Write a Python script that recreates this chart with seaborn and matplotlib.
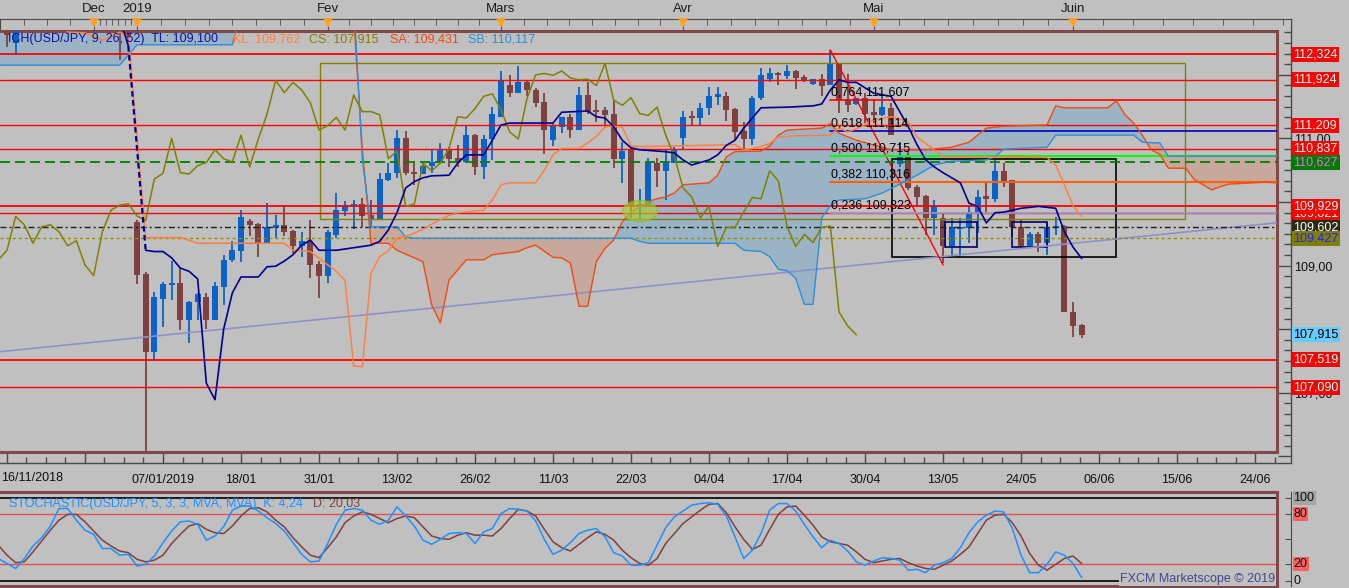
import numpy as np
import pandas as pd
import matplotlib
matplotlib.use("Agg")
import matplotlib.pyplot as plt
import matplotlib.transforms as mtransforms
from matplotlib.patches import Rectangle, Ellipse
from matplotlib.ticker import FixedLocator, MultipleLocator, AutoMinorLocator, FuncFormatter, NullFormatter
import seaborn as sns

sns.set_style("white")
plt.rcParams['font.family'] = ['Liberation Sans', 'DejaVu Sans']
plt.rcParams['lines.scale_dashes'] = False

# ---------------- data (USD/JPY daily, bar 0 = 07/01/2019) ----------------
bar_idx = [-18, -17, -5, -4] + list(range(-3, 107))
opens = [112.85, 112.50, 112.90, 112.67,
         109.68, 108.87, 107.64, 108.47, 108.70, 108.73, 108.14, 108.43, 108.51, 108.14,
         108.67, 109.08, 109.23, 109.70, 109.65, 109.35, 109.59, 109.64, 109.54, 109.31,
         109.39, 109.02, 108.84, 109.48, 109.86, 109.92, 109.96, 109.79, 109.71, 110.35,
         110.45, 111.00, 110.47, 110.44, 110.57, 110.61, 110.82, 110.69, 110.63, 111.05,
         110.55, 110.99, 111.33, 111.84, 111.72, 111.88, 111.76, 111.57, 110.97, 111.18,
         111.33, 111.13, 111.68, 111.45, 111.45, 111.39, 110.68, 110.82, 109.92, 109.95,
         110.61, 110.49, 110.61, 111.00, 111.34, 111.32, 111.47, 111.65, 111.67, 111.46,
         111.12, 110.99, 111.63, 111.94, 112.02, 111.98, 112.06, 111.96, 111.85, 111.93,
         111.84, 112.17, 111.60, 111.54, 111.63, 111.42, 111.36, 111.47, 110.59, 110.72,
         110.24, 110.09, 109.75, 109.74, 109.30, 109.57, 109.59, 109.82, 110.10, 110.05,
         110.49, 110.35, 109.61, 109.31, 109.49, 109.35, 109.59, 109.62, 108.27, 108.07]
highs = [112.95, 112.90, 113.00, 112.90,
         109.72, 108.90, 108.58, 108.74, 109.07, 108.96, 108.44, 108.57, 108.57, 108.74,
         109.17, 109.38, 109.87, 109.73, 109.67, 109.99, 109.79, 109.93, 109.56, 109.52,
         109.72, 109.07, 109.56, 110.14, 110.01, 110.03, 110.06, 110.03, 110.45, 110.61,
         111.13, 111.12, 110.61, 110.63, 110.82, 110.92, 110.87, 110.90, 111.19, 111.07,
         111.05, 111.50, 112.06, 112.00, 112.13, 111.92, 111.79, 111.71, 111.23, 111.34,
         111.39, 111.81, 111.88, 111.60, 111.50, 111.60, 110.95, 110.87, 110.21, 110.69,
         110.69, 110.82, 110.87, 111.43, 111.43, 111.55, 111.81, 111.81, 111.73, 111.48,
         111.26, 111.66, 112.10, 112.10, 112.04, 112.15, 112.07, 112.00, 111.94, 112.01,
         112.39, 112.18, 112.01, 111.64, 111.71, 111.60, 111.66, 111.55, 110.95, 110.84,
         110.27, 110.11, 110.03, 109.82, 109.74, 109.74, 109.93, 110.19, 110.32, 110.66,
         110.61, 110.35, 109.73, 109.53, 109.53, 109.67, 109.77, 109.64, 108.43, 108.08]
lows = [112.44, 112.31, 112.23, 112.50,
        108.71, 104.87, 107.52, 108.03, 108.46, 107.99, 107.78, 108.14, 108.00, 108.14,
        108.38, 109.06, 109.06, 109.47, 109.14, 109.34, 109.43, 109.47, 109.19, 109.14,
        108.81, 108.49, 108.73, 109.43, 109.78, 109.57, 109.60, 109.61, 109.71, 110.33,
        110.37, 110.42, 110.27, 110.44, 110.46, 110.60, 110.55, 110.55, 110.63, 110.42,
        110.36, 110.66, 111.33, 111.65, 111.72, 111.67, 111.50, 110.75, 110.88, 111.09,
        111.00, 111.13, 111.39, 111.26, 111.16, 110.54, 110.29, 109.74, 109.72, 109.95,
        110.24, 110.03, 110.61, 110.82, 111.21, 111.21, 111.37, 111.52, 111.28, 110.97,
        110.82, 110.90, 111.60, 111.89, 111.84, 111.94, 111.77, 111.89, 111.84, 111.67,
        111.84, 111.40, 111.42, 111.52, 111.24, 111.24, 111.35, 111.05, 110.55, 110.19,
        109.93, 109.48, 109.48, 109.04, 109.14, 109.14, 109.35, 109.51, 109.82, 110.00,
        110.24, 109.45, 109.27, 109.27, 109.22, 109.17, 109.48, 108.27, 107.88, 107.86]
closes = [112.62, 112.80, 112.80, 112.59,
          108.85, 107.64, 108.51, 108.71, 108.73, 108.14, 108.43, 108.55, 108.14, 108.68,
          109.09, 109.24, 109.77, 109.64, 109.35, 109.61, 109.64, 109.53, 109.31, 109.39,
          109.01, 108.84, 109.53, 109.87, 109.95, 109.97, 109.78, 109.71, 110.36, 110.45,
          111.00, 110.46, 110.44, 110.57, 110.62, 110.82, 110.68, 110.63, 111.05, 110.55,
          110.99, 111.38, 111.91, 111.72, 111.88, 111.76, 111.56, 111.13, 111.20, 111.33,
          111.13, 111.68, 111.42, 111.42, 111.37, 110.68, 110.80, 109.93, 109.97, 110.61,
          110.49, 110.61, 110.84, 111.34, 111.32, 111.47, 111.66, 111.70, 111.45, 111.10,
          110.99, 111.63, 112.00, 112.02, 111.99, 112.06, 111.95, 111.92, 111.93, 111.83,
          112.18, 111.60, 111.52, 111.64, 111.39, 111.36, 111.49, 111.05, 110.72, 110.22,
          110.08, 109.75, 109.93, 109.30, 109.60, 109.60, 109.84, 110.07, 110.05, 110.49,
          110.33, 109.61, 109.30, 109.49, 109.36, 109.60, 109.62, 108.27, 108.05, 107.91]

# Ichimoku lines (bar index, price)
tenkan_idx = [-5, -4, -2, -1, 0, 1, 2, 3, 4, 5, 6, 7, 8, 9, 11, 12, 13, 14, 15, 16, 17, 18, 20,
              24, 25, 26, 27, 28, 29, 30, 31, 33, 34, 35, 37, 38, 39, 40, 45, 46, 49, 50, 51, 52,
              53, 54, 55, 58, 59, 60, 61, 63, 64, 65, 66, 67, 69, 72, 75, 76, 77, 78, 79, 80, 82,
              84, 85, 86, 87, 88, 89, 90, 92, 93, 94, 95, 96, 97, 99, 101, 103, 104, 105, 106]
tenkan_px = [112.90, 112.45, 109.24, 109.22, 109.22, 109.12, 108.96, 108.91, 108.79, 107.15, 106.89,
             108.00, 108.57, 108.82, 108.82, 108.98, 108.99, 109.07, 109.17, 109.32, 109.40, 109.24,
             109.24, 109.32, 109.38, 109.56, 109.83, 110.22, 110.32, 110.38, 110.41, 110.42, 110.61,
             110.74, 110.74, 110.97, 111.21, 111.24, 111.24, 111.41, 111.43, 111.34, 111.32, 111.18,
             110.97, 110.85, 110.82, 110.79, 110.77, 110.66, 110.58, 110.66, 110.74, 110.89, 110.97,
             111.16, 111.48, 111.49, 111.51, 111.54, 111.76, 111.92, 111.88, 111.88, 111.71, 111.66,
             111.42, 111.18, 110.90, 110.66, 110.55, 110.46, 110.30, 109.98, 109.93, 109.67, 109.83,
             109.84, 109.90, 109.93, 109.90, 109.53, 109.29, 109.11]
kijun_idx = [-19, -12, -11, -9, -7, -6, -5, -4, -2, 2, 4, 14, 15, 17, 19, 20, 21, 22, 23, 24, 25,
             26, 27, 28, 29, 30, 31, 32, 33, 34, 37, 38, 39, 40, 43, 44, 45, 46, 48, 49, 50, 51, 52,
             53, 54, 55, 66, 67, 68, 69, 70, 71, 73, 77, 78, 79, 80, 82, 84, 86, 87, 89, 90, 102,
             103, 104, 105, 106]
kijun_px = [113.00, 113.00, 112.67, 112.66, 112.54, 112.61, 112.67, 112.61, 109.44, 109.44, 109.35,
            109.35, 109.24, 109.22, 109.01, 108.91, 108.77, 107.42, 107.41, 108.88, 109.14, 109.23,
            109.43, 109.46, 109.51, 109.57, 109.65, 109.72, 109.79, 109.83, 109.87, 110.03, 110.27,
            110.30, 110.30, 110.50, 110.74, 110.84, 110.84, 110.93, 111.03, 111.18, 111.19, 111.18,
            110.88, 110.87, 110.90, 110.82, 110.84, 110.87, 110.92, 111.02, 111.04, 111.05, 111.17,
            111.10, 111.15, 111.29, 111.34, 111.26, 111.02, 110.82, 110.71, 110.70, 110.58, 110.27,
            109.94, 109.77]
senkou_a_idx = [-19, 21, 22, 23, 24, 26, 27, 30, 31, 32, 33, 34, 35, 37, 38, 41, 42, 43, 45, 46,
                47, 48, 49, 50, 51, 52, 53, 54, 55, 56, 57, 58, 59, 60, 63, 64, 65, 66, 69, 70, 71,
                72, 76, 77, 78, 80, 84, 88, 91, 93, 95, 97, 102, 103, 104, 109, 110, 111, 112, 113,
                114, 115, 116, 118, 119, 121, 122, 123, 127, 129]
senkou_a_px = [113.00, 113.00, 112.90, 110.82, 109.35, 109.35, 109.24, 109.06, 108.38, 108.10,
               108.77, 108.93, 109.09, 109.09, 109.17, 109.22, 109.28, 109.32, 109.13, 109.12,
               109.04, 108.36, 108.36, 109.06, 109.27, 109.40, 109.69, 109.84, 109.92, 110.01,
               110.05, 110.08, 110.14, 110.27, 110.30, 110.42, 110.71, 110.79, 110.80, 110.88,
               111.05, 111.13, 111.16, 111.23, 111.08, 110.97, 110.82, 110.82, 110.86, 110.94,
               111.16, 111.19, 111.21, 111.51, 111.48, 111.48, 111.59, 111.37, 111.24, 111.05,
               110.82, 110.75, 110.53, 110.53, 110.35, 110.19, 110.24, 110.28, 110.31, 110.30]
senkou_b_idx = [-19, -5, -4, -3, 8, 9, 22, 23, 24, 27, 28, 29, 54, 55, 56, 66, 67, 69, 70, 71, 72,
                73, 74, 75, 76, 77, 78, 81, 83, 85, 87, 89, 91, 95, 96, 97, 102, 103, 112, 113, 114,
                115, 116, 129]
senkou_b_px = [112.15, 112.15, 112.31, 112.47, 112.47, 113.00, 113.20, 110.67, 109.61, 109.61,
               109.45, 109.43, 109.43, 109.38, 109.35, 109.35, 109.24, 109.22, 109.14, 108.94,
               108.92, 108.80, 108.39, 108.39, 109.75, 109.94, 110.03, 110.05, 110.14, 110.28,
               110.42, 110.58, 110.64, 110.66, 110.71, 110.83, 110.86, 111.05, 111.05, 110.94,
               110.93, 110.93, 110.72, 110.72]

# horizontal levels shown with labels on the price scale
level_px = [112.324, 111.924, 111.209, 110.837, 110.627, 109.821, 109.929, 109.602, 109.427,
            107.915, 107.519, 107.090]
level_bg = ['#ff0000', '#ff0000', '#ff0000', '#ff0000', '#007a00', '#ff0000', '#ff0000',
            '#2b2b14', '#808000', '#66ccff', '#ff0000', '#ff0000']
level_fg = ['#b0ffff', '#b0ffff', '#b0ffff', '#b0ffff', '#e070e0', '#b0ffff', '#b0ffff',
            '#ffffff', '#2020ff', '#000000', '#b0ffff', '#b0ffff']
scale_labels = [107, 109, 111]

# Fibonacci retracement drawn from bar 77
fib_ratio = ['0,764', '0,618', '0,500', '0,382', '0,236']
fib_px = [111.607, 111.114, 110.715, 110.316, 109.823]
fib_col = ['#ff0000', '#0000c0', '#00ff00', '#ff6000', '#9a9ad0']

# stochastic (5,3,3), one value per bar from -19 to 106
stoch_idx = list(range(-19, 107))
stoch_k = [27, 21, 15, 27, 42, 52, 66, 87, 87, 73, 61, 56, 39, 39, 31, 32, 18, 20, 30, 46,
           60, 71, 72, 68, 49, 54, 65, 85, 90, 90, 84, 76, 69, 60, 46, 32, 23, 24, 45, 68,
           85, 87, 85, 73, 68, 73, 89, 78, 66, 49, 44, 50, 57, 58, 57, 45, 59, 63, 81, 87,
           86, 84, 72, 50, 32, 37, 46, 57, 61, 63, 53, 34, 30, 19, 19, 22, 43, 64, 77, 84,
           91, 93, 94, 92, 78, 53, 27, 37, 57, 85, 93, 93, 84, 68, 53, 40, 49, 45, 36, 23,
           19, 24, 28, 27, 25, 13, 14, 10, 19, 22, 27, 40, 58, 71, 79, 84, 83, 63, 31, 10,
           10, 20, 35, 31, 21, 4]
stoch_d = [43, 31, 22, 23, 35, 48, 61, 73, 80, 80, 71, 60, 49, 42, 36, 34, 26, 23, 25, 31,
           45, 56, 66, 69, 62, 58, 57, 66, 78, 87, 88, 83, 73, 65, 52, 41, 31, 28, 40, 53,
           70, 78, 83, 80, 75, 70, 75, 78, 76, 65, 54, 51, 50, 55, 58, 55, 55, 54, 63, 75,
           86, 84, 78, 62, 47, 40, 36, 44, 52, 59, 56, 49, 37, 28, 21, 19, 27, 45, 57, 69,
           77, 85, 92, 93, 82, 65, 50, 38, 43, 62, 80, 89, 90, 79, 67, 53, 47, 45, 43, 35,
           26, 22, 24, 26, 27, 22, 18, 15, 14, 19, 24, 32, 41, 57, 73, 79, 80, 70, 54, 33,
           19, 13, 20, 27, 30, 21]

# date axes
date_ticks = [0, 9, 18, 27, 36, 45, 54, 63, 72, 81, 90, 99, 108, 117, 126]
date_labels = ['07/01/2019', '18/01', '31/01', '13/02', '26/02', '11/03', '22/03', '04/04',
               '17/04', '30/04', '13/05', '24/05', '06/06', '15/06', '24/06']
month_idx = [-8, -3, 19, 39, 60, 82, 105]
month_labels = ['Dec', '2019', 'Fev', 'Mars', 'Avr', 'Mai', 'Juin']

# ---------------- layout ----------------
BG = '#c0c0c0'
FRAME = '#804848'
AXC = '#4a4a4a'
BULL = '#0a64c8'
BEAR = '#804040'
W, H = 1349.0, 588.0
PX_BAR, X_ZERO, PX_YEN, TOP_PRICE = 8.667, 163.0, 63.6, 113.175


def rect(x0, y0, x1, y1):
    return [x0 / W, 1 - y1 / H, (x1 - x0) / W, (y1 - y0) / H]


def bar_at(px):
    return (px - X_ZERO) / PX_BAR


def price_at(py):
    return TOP_PRICE - py / PX_YEN


def ftext(px, py, s, **kw):
    fig.text(px / W, 1 - py / H, s, **kw)


def scale_fmt(v, pos):
    return f"{v:.2f}".replace('.', ',') if round(v) in scale_labels else ''


fig = plt.figure(figsize=(W / 100, H / 100), dpi=100)
fig.patch.set_facecolor(BG)

# outer price / date scale
outer = fig.add_axes(rect(0, 18.7, 1291, 463))
outer.set_facecolor(BG)
outer.set_xlim(bar_at(0), bar_at(1291))
outer.set_ylim(price_at(463), price_at(18.7))
for s in ['top', 'left']:
    outer.spines[s].set_visible(False)
for s in ['right', 'bottom']:
    outer.spines[s].set_color(AXC)
    outer.spines[s].set_linewidth(1)
outer.xaxis.set_major_locator(FixedLocator([-18, -9] + date_ticks))
outer.set_xticklabels(['', ''] + date_labels)
outer.xaxis.set_minor_locator(MultipleLocator(2.25))
outer.tick_params(axis='x', which='major', direction='in', length=10, width=1, color=AXC,
                  labelsize=9, labelcolor='#101010', pad=8, top=False, bottom=True)
outer.tick_params(axis='x', which='minor', direction='in', length=4.3, width=1, color=AXC,
                  top=False, bottom=True)
outer.yaxis.tick_right()
outer.yaxis.set_major_locator(MultipleLocator(1))
outer.yaxis.set_minor_locator(AutoMinorLocator(6))
outer.yaxis.set_major_formatter(FuncFormatter(scale_fmt))
outer.tick_params(axis='y', which='major', direction='in', length=9.4, width=1, color=AXC,
                  labelsize=9, labelcolor='#101010', pad=2, left=False, right=True)
outer.tick_params(axis='y', which='minor', direction='in', length=5, width=1, color=AXC,
                  left=False, right=True)
ftext(1, 478, '16/11/2018', fontsize=9, color='#101010', ha='left', va='center')

# top month strip
topax = fig.add_axes(rect(0, 18.7, 1291, 31))
topax.set_facecolor(BG)
topax.set_xlim(bar_at(0), bar_at(1291))
topax.set_ylim(0, 1)
topax.spines['bottom'].set_visible(False)
for s in ['top', 'left', 'right']:
    topax.spines[s].set_color(AXC)
top_minor = [month_idx[0] - 2.69 * k for k in range(1, 5)]
for a, b in zip(month_idx[:-1], month_idx[1:]):
    n = 7 if a == -8 else 8
    top_minor += list(np.linspace(a, b, n + 1)[1:-1])
top_minor += [month_idx[-1] + 3.46 * k for k in range(1, 8)]
topax.xaxis.tick_top()
topax.xaxis.set_major_locator(FixedLocator(month_idx))
topax.xaxis.set_minor_locator(FixedLocator(top_minor))
topax.xaxis.set_major_formatter(NullFormatter())
topax.set_yticks([])
topax.tick_params(axis='x', which='major', direction='in', length=8.9, color=AXC, top=True, bottom=False)
topax.tick_params(axis='x', which='minor', direction='in', length=4.5, color=AXC, top=True, bottom=False)
topax.plot(month_idx, [0.61] * len(month_idx), ls='none', marker='v', ms=7, color='#ffa020',
           mew=0, clip_on=False, zorder=5)
for m, lab in zip(month_idx, month_labels):
    ftext(X_ZERO + m * PX_BAR, 8.5, lab, fontsize=9.5, color='#1a1a1a', ha='center', va='center')

# ---------------- main price panel ----------------
main = fig.add_axes(rect(0, 31, 1277, 452))
main.set_facecolor(BG)
main.set_xlim(bar_at(0), bar_at(1277))
main.set_ylim(price_at(452), price_at(31))
main.set_xticks([])
main.set_yticks([])
for s in main.spines.values():
    s.set_color(FRAME)
    s.set_linewidth(2.2)
main.spines['left'].set_visible(False)

# cloud
grid = np.arange(-19, 130)
sa_g = np.interp(grid, senkou_a_idx, senkou_a_px)
sb_g = np.interp(grid, senkou_b_idx, senkou_b_px)
main.fill_between(grid, sa_g, sb_g, where=sa_g >= sb_g, interpolate=True, color='#9ab4c6', lw=0, zorder=1)
main.fill_between(grid, sa_g, sb_g, where=sa_g < sb_g, interpolate=True, color='#c6a89c', lw=0, zorder=1)

# candles
cdl = pd.DataFrame({'i': bar_idx, 'o': opens, 'h': highs, 'l': lows, 'c': closes})
cols = np.where(cdl.c >= cdl.o, BULL, BEAR)
main.vlines(cdl.i, cdl.l, cdl.h, colors=cols, lw=1.3, zorder=3)
body_h = np.maximum((cdl.c - cdl.o).abs(), 0.03)
main.bar(cdl.i, body_h, bottom=np.minimum(cdl.o, cdl.c), width=0.7, color=cols, lw=0, zorder=3.1)

# drawn objects: boxes, trend lines
main.add_patch(Rectangle((bar_at(320), price_at(219)), bar_at(1185) - bar_at(320),
                         price_at(63) - price_at(219), fill=False, ec='#808000', lw=1, zorder=4))
main.add_patch(Rectangle((bar_at(891.7), price_at(257.3)), bar_at(1115.7) - bar_at(891.7),
                         price_at(159.3) - price_at(257.3), fill=False, ec='#000000', lw=1.2, zorder=4))
for x0, x1 in [(945, 977), (1012.3, 1047.3)]:
    main.add_patch(Rectangle((bar_at(x0), price_at(247.3)), bar_at(x1) - bar_at(x0),
                             price_at(222) - price_at(247.3), fill=False, ec='#000070', lw=1.2, zorder=4))
main.plot([bar_at(0), bar_at(1277)], [107.645, 109.673], color='#9090c8', lw=1.2, zorder=4)
main.plot([77, 90], [112.39, 109.01], color='#ff0000', lw=1, zorder=4)

# horizontal levels
for p in [112.324, 111.924, 111.209, 110.837, 109.929, 109.821, 107.519, 107.090]:
    main.axhline(p, color='#ff0000', lw=1.3 if p in (112.324, 109.929, 107.519) else 1.0, zorder=4)
main.axhline(110.627, color='#008000', lw=1.3, dashes=(7.2, 3.6), zorder=4)
main.axhline(109.602, color='#1e1e1e', lw=1.0, dashes=(4.3, 2.2, 1.4, 2.2), zorder=4)
main.axhline(109.427, color='#909000', lw=1.0, dashes=(2.2, 2.2), zorder=4)
for lab, p, c in zip(fib_ratio, fib_px, fib_col):
    main.plot([77, bar_at(1277)], [p, p], color=c, lw=1.5 if c in ('#00ff00', '#ff6000') else 1.2, zorder=4.2)
    main.text(bar_at(831), p + 0.025, f"{lab} {p:.3f}".replace('.', ','), fontsize=9,
              color='#000000', ha='left', va='bottom', zorder=7)

# ichimoku lines
sns.lineplot(x=senkou_a_idx, y=senkou_a_px, ax=main, color='#f04a10', lw=1, sort=False,
             estimator=None, legend=False, zorder=5)
sns.lineplot(x=senkou_b_idx, y=senkou_b_px, ax=main, color='#2a90d8', lw=1, sort=False,
             estimator=None, legend=False, zorder=5)
sns.lineplot(x=kijun_idx, y=kijun_px, ax=main, color='#ff8040', lw=1.1, sort=False,
             estimator=None, legend=False, zorder=5)
chk = cdl[cdl.i >= -3]
sns.lineplot(x=chk.i.values - 26, y=chk.c.values, ax=main, color='#808000', lw=1.1, sort=False,
             estimator=None, legend=False, zorder=5)
tk = pd.DataFrame({'i': tenkan_idx, 'p': tenkan_px})
main.plot(tk.i[tk.i <= -4], tk.p[tk.i <= -4], color='#000090', lw=1.2, zorder=5.5)
main.plot(tk.i[(tk.i >= -4) & (tk.i <= -2)], tk.p[(tk.i >= -4) & (tk.i <= -2)], color='#000090',
          lw=1.6, dashes=(4, 2.5), zorder=5.5)
sns.lineplot(data=tk[tk.i >= -2], x='i', y='p', ax=main, color='#000090', lw=1.2, sort=False,
             estimator=None, legend=False, zorder=5.5)
main.set_xlabel('')
main.set_ylabel('')

main.add_patch(Ellipse((55.04, 109.857), 4.0, 0.33, fc='#a8d030', ec='#90b820', alpha=0.65, zorder=6))

# indicator legend on top of the panel
for x, s, c in [(8, 'ICH(USD/JPY, 9, 26, 52)  TL: 109,100', '#1010a0'),
                (232.7, 'KL: 109,762', '#ff8040'), (309, 'CS: 107,915', '#808000'),
                (390, 'SA: 109,431', '#f04a10'), (468.3, 'SB: 110,117', '#2a90d8')]:
    ftext(x, 39, s, fontsize=9, color=c, ha='left', va='center')

# price labels on the right scale
lab_tr = mtransforms.blended_transform_factory(fig.transFigure, main.transData)
for p, bg, fg in zip(level_px, level_bg, level_fg):
    main.text(1293.5 / W, p, f"{p:.3f}".replace('.', ','), transform=lab_tr, fontsize=9,
              color=fg, ha='left', va='center', zorder=10,
              bbox=dict(boxstyle='square,pad=0.12', fc=bg, ec='none'))

# ---------------- stochastic panel ----------------
st_outer = fig.add_axes(rect(0, 491.7, 1291, 586))
st_outer.set_facecolor(BG)
st_outer.set_xlim(bar_at(0), bar_at(1291))
st_outer.set_ylim(-6.0, 107.2)
for s in ['top', 'left', 'bottom']:
    st_outer.spines[s].set_visible(False)
st_outer.spines['right'].set_color(AXC)
st_outer.set_xticks([])
st_outer.yaxis.tick_right()
st_outer.set_yticks([0, 20, 50, 80, 100])
st_outer.set_yticklabels([])
st_outer.tick_params(axis='y', direction='in', length=4.3, color=AXC, left=False, right=True)

stoch = fig.add_axes(rect(0, 491.7, 1277, 586))
stoch.set_facecolor(BG)
stoch.set_xlim(bar_at(0), bar_at(1277))
stoch.set_ylim(-6.0, 107.2)
stoch.set_xticks([])
stoch.set_yticks([])
for s in stoch.spines.values():
    s.set_color(FRAME)
    s.set_linewidth(2.2)
stoch.spines['left'].set_visible(False)
stoch.axhline(100, color='#000000', lw=1.2, zorder=2)
stoch.axhline(0, color='#000000', lw=1.2, zorder=2)
stoch.axhline(80, color='#e05050', lw=1, zorder=2)
stoch.axhline(20, color='#e05050', lw=1, zorder=2)
st = pd.DataFrame({'i': stoch_idx, 'K': stoch_k, 'D': stoch_d})
sns.lineplot(data=st, x='i', y='D', ax=stoch, color='#804040', lw=1.1, estimator=None, legend=False, zorder=3)
sns.lineplot(data=st, x='i', y='K', ax=stoch, color='#1e90ff', lw=1.1, estimator=None, legend=False, zorder=4)
stoch.set_xlabel('')
stoch.set_ylabel('')

ftext(8.7, 504, 'STOCHASTIC(USD/JPY, 5, 3, 3, MVA, MVA)  K: 4,24', fontsize=9, color='#1e90ff',
      ha='left', va='center')
ftext(313, 504, 'D: 20,03', fontsize=9, color='#804040', ha='left', va='center')
ftext(1275, 579, 'FXCM Marketscope \u00a9 2019', fontsize=9, color='#46468c', ha='right', va='center',
      bbox=dict(boxstyle='square,pad=0.05', fc=BG, ec='none'))

st_tr = mtransforms.blended_transform_factory(fig.transFigure, stoch.transData)
for v, bg in [(100, '#a4a4a4'), (80, '#ff6060'), (20, '#ff6060'), (0, None)]:
    kw = dict(bbox=dict(boxstyle='square,pad=0.08', fc=bg, ec='none')) if bg else {}
    stoch.text(1293.5 / W, v, str(v), transform=st_tr, fontsize=9, color='#101010',
               ha='left', va='center', zorder=10, **kw)

fig.savefig('out.png', dpi=100, facecolor=BG)
